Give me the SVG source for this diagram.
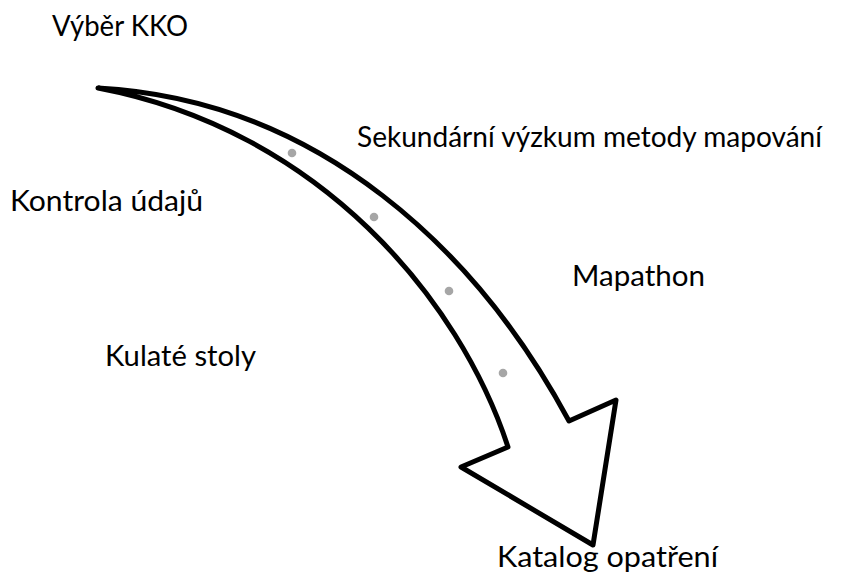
<svg xmlns="http://www.w3.org/2000/svg" width="855" height="575" viewBox="0 0 855 575">
<style>
.lbl{font-family:Lato,"Open Sans","Liberation Sans",sans-serif;font-size:28px;fill:#000}
.arrow{fill:#fff;stroke:#000;stroke-width:5;stroke-linejoin:round}
.dot{fill:#a6a6a6}
</style>
<rect width="855" height="575" fill="#fff"/>
<g id="connectors">
<path id="curved-arrow" class="arrow" d="M98,88 C320,100 478,252 569,421 L616,400 L593,545 L461,467 L508,447 C460,300 320,130 98,88 Z"/>
<circle class="dot" cx="292" cy="153" r="4.3"/>
<circle class="dot" cx="374" cy="217" r="4.3"/>
<circle class="dot" cx="449" cy="291" r="4.3"/>
<circle class="dot" cx="503" cy="373" r="4.3"/>
</g>
<g id="n1"><text class="lbl" x="52" y="36" textLength="136" lengthAdjust="spacingAndGlyphs">Výběr KKO</text></g>
<g id="n2"><text class="lbl" x="357" y="147" textLength="465" lengthAdjust="spacingAndGlyphs">Sekundární výzkum metody mapování</text></g>
<g id="n3"><text class="lbl" x="10" y="211" textLength="193" lengthAdjust="spacingAndGlyphs">Kontrola údajů</text></g>
<g id="n4"><text class="lbl" x="572" y="286" textLength="133" lengthAdjust="spacingAndGlyphs">Mapathon</text></g>
<g id="n5"><text class="lbl" x="105" y="366" textLength="151" lengthAdjust="spacingAndGlyphs">Kulaté stoly</text></g>
<g id="n6"><text class="lbl" x="497" y="567" textLength="221" lengthAdjust="spacingAndGlyphs">Katalog opatření</text></g>
</svg>
